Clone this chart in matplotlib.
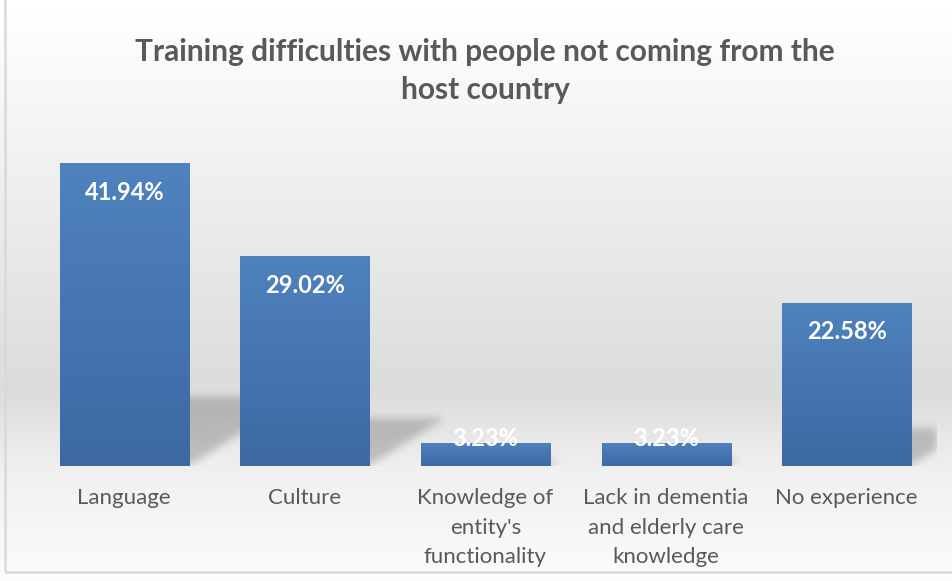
import numpy as np
import matplotlib
matplotlib.use("Agg")
import matplotlib.pyplot as plt
from matplotlib.path import Path
from matplotlib.colors import to_rgb

categories = ["Language", "Culture", "Knowledge of\nentity's\nfunctionality",
              "Lack in dementia\nand elderly care\nknowledge", "No experience"]
values = [41.94, 29.02, 3.23, 3.23, 22.58]
labels = ["41.94%", "29.02%", "3.23%", "3.23%", "22.58%"]
title = "Training difficulties with people not coming from the\nhost country"

W, H, DPI = 953, 581, 100
FONT = "Lato"
TXT = "#595959"
BAR_TOP, BAR_BOT = "#4f82be", "#3c69a2"
YMAX = 45

fig = plt.figure(figsize=(W / DPI, H / DPI), dpi=DPI)

# chart-area background: vertical grey gradient + thin frame
bg = fig.add_axes([0, 0, 1, 1], zorder=-5)
stops_y = np.array([0, 9, 170, 390, 470, 581]) / H
stops_v = np.array([255, 255, 240, 220, 240, 252]) / 255
yy = np.linspace(0, 1, H)
col = np.interp(yy, stops_y, stops_v)
grad = np.repeat(col[:, None], W, axis=1)
bg.imshow(np.dstack([grad] * 3), extent=(0, 1, 1, 0), aspect="auto")
bg.add_patch(plt.Rectangle((4.5 / W, 9.5 / H), 1.2, 1.2, fill=False,
                           ec="#d9d9d9", lw=1.8, transform=bg.transAxes))
bg.set_xlim(0, 1); bg.set_ylim(1, 0); bg.axis("off")

# plot area
x0, x1, ybase, ytop = 34, 937, 466, 141
ax = fig.add_axes([x0 / W, (H - ybase) / H, (x1 - x0) / W, (ybase - ytop) / H])
ax.patch.set_alpha(0)
n = len(values)
xs = np.arange(n)
ax.set_xlim(-0.5, n - 0.5)
ax.set_ylim(0, YMAX)

# perspective drop shadows, rasterised and blurred
nx, ny = x1 - x0, ybase - ytop
gx = np.linspace(-0.5, n - 0.5, nx)
gy = np.linspace(0, YMAX, ny)
GX, GY = np.meshgrid(gx, gy)
pts = np.column_stack([GX.ravel(), GY.ravel()])
mask = np.zeros(GX.shape)
bw = 0.715
for xi, v in zip(xs, values):
    dx, dy = 0.0145 * v, 0.228 * v
    poly = Path([(xi - bw / 2, 0), (xi + bw / 2, 0),
                 (xi + bw / 2 + dx, dy), (xi - bw / 2 + dx, dy)])
    mask = np.maximum(mask, poly.contains_points(pts).reshape(GX.shape))

def blur(a, s):
    k = np.arange(-3 * s, 3 * s + 1)
    g = np.exp(-k ** 2 / (2 * s ** 2)); g /= g.sum()
    a = np.apply_along_axis(lambda r: np.convolve(r, g, mode="same"), 1, a)
    return np.apply_along_axis(lambda c: np.convolve(c, g, mode="same"), 0, a)

mask = blur(mask, 4)
shadow = np.zeros(GX.shape + (4,))
shadow[..., 3] = mask * 0.20
ax.imshow(shadow, extent=(-0.5, n - 0.5, 0, YMAX), origin="lower",
          aspect="auto", zorder=1, interpolation="bilinear")

# bars with top-to-bottom gradient
bars = ax.bar(xs, values, width=bw, color=BAR_BOT, zorder=2, lw=0)
ct, cb = np.array(to_rgb(BAR_TOP)), np.array(to_rgb(BAR_BOT))
t = np.linspace(0, 1, 256)[:, None]
g = (ct * (1 - t) + cb * t)[:, None, :]
for b in bars:
    im = ax.imshow(g, extent=(b.get_x(), b.get_x() + b.get_width(), 0, b.get_height()),
                   origin="upper", aspect="auto", zorder=3)
    im.set_clip_path(b)

for xi, v, lab in zip(xs, values, labels):
    off = -29 if v > 10 else 4
    ax.annotate(lab, (xi, v), xytext=(0, off * 72 / DPI), textcoords="offset points",
                ha="center", va="center", color="white", fontsize=17,
                fontweight="bold", family=FONT, zorder=4)

ax.set_xticks(xs)
ax.set_xticklabels(categories, fontsize=16, color=TXT, family=FONT, linespacing=1.6)
ax.tick_params(axis="x", length=0, pad=16)
ax.set_yticks([])
for s in ax.spines.values():
    s.set_visible(False)

fig.text(485 / W, 1 - 71 / H, title, ha="center", va="center", fontsize=21.5,
         fontweight="bold", color=TXT, family=FONT, linespacing=1.4)

fig.savefig("out.png", dpi=DPI)
